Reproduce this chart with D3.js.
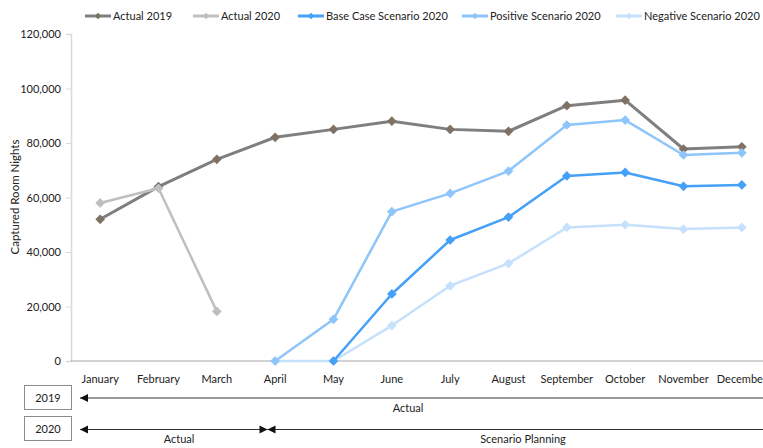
<!DOCTYPE html>
<html>
<head>
<meta charset="utf-8">
<script src="https://cdn.jsdelivr.net/npm/d3@7"></script>
<style>
  html, body { margin: 0; padding: 0; background: #fff; }
  svg { display: block; font-family: Lato, "Open Sans", sans-serif; }
</style>
</head>
<body>
<svg id="chart" width="763" height="448"></svg>
<script>
// Months on the x axis
const months = ["January", "February", "March", "April", "May", "June", "July",
  "August", "September", "October", "November", "December"];

// Captured room nights per month (null = no value)
const actual2019 = [52000, 64000, 74000, 82100, 85000, 88000, 85000, 84300, 93700, 95700, 77800, 78600];
const actual2020 = [58000, 63400, 18200, null, null, null, null, null, null, null, null, null];
const baseCase2020 = [null, null, null, null, 0, 24600, 44400, 52800, 67900, 69200, 64100, 64600];
const positive2020 = [null, null, null, 0, 15300, 54800, 61500, 69700, 86600, 88400, 75600, 76400];
const negative2020 = [null, null, null, 0, 0, 13000, 27600, 35800, 49000, 50000, 48400, 49000];

const yTicks = [0, 20000, 40000, 60000, 80000, 100000, 120000];

const seriesNames = ["Actual 2019", "Actual 2020", "Base Case Scenario 2020",
  "Positive Scenario 2020", "Negative Scenario 2020"];

const series = [
  { name: seriesNames[0], values: actual2019, line: "#7f7f7f", marker: "#7f7265", width: 3 },
  { name: seriesNames[1], values: actual2020, line: "#bfbfbf", marker: "#bfbfbf", width: 2.5 },
  { name: seriesNames[4], values: negative2020, line: "#c6e1fc", marker: "#c6e1fc", width: 2.5 },
  { name: seriesNames[3], values: positive2020, line: "#8ec5fa", marker: "#8ec5fa", width: 2.5 },
  { name: seriesNames[2], values: baseCase2020, line: "#45a0f7", marker: "#45a0f7", width: 2.5 }
];
const legendOrder = [0, 1, 4, 3, 2];
const legendX = [85, 193, 298, 462, 616];

const svg = d3.select("#chart");

const x = d3.scaleBand().domain(months).range([71, 771]);
const y = d3.scaleLinear().domain([0, 120000]).range([361, 34]);
const cx = m => x(m) + x.bandwidth() / 2;

// Vertical value axis
const yAxis = svg.append("g")
  .attr("transform", "translate(71,0)")
  .call(d3.axisLeft(y).tickValues(yTicks).tickSize(5).tickPadding(5)
    .tickFormat(d3.format(",")));
yAxis.select(".domain").attr("stroke", "#d9d9d9").attr("stroke-width", 1.5);
yAxis.selectAll(".tick line").attr("stroke", "#d9d9d9");
yAxis.selectAll(".tick text").attr("fill", "#222").style("font-size", "11px")
  .style("font-family", "Lato, 'Open Sans', sans-serif");

// Horizontal category axis
svg.append("line")
  .attr("x1", 71).attr("x2", 763).attr("y1", y(0)).attr("y2", y(0))
  .attr("stroke", "#a6a6a6").attr("stroke-width", 1.2);
svg.append("g").selectAll("text").data(months).join("text")
  .attr("x", d => cx(d)).attr("y", 383)
  .attr("text-anchor", "middle")
  .style("font-size", "11px").attr("fill", "#222")
  .text(d => d);

// Axis title
svg.append("text")
  .attr("transform", "translate(19,197) rotate(-90)")
  .attr("text-anchor", "middle")
  .style("font-size", "11.5px").attr("fill", "#222")
  .text("Captured Room Nights");

// Lines and diamond markers
const line = d3.line()
  .defined(d => d.v !== null)
  .x(d => cx(d.m)).y(d => y(d.v));
const diamond = d3.symbol().type(d3.symbolDiamond2).size(60);

series.forEach(s => {
  const pts = months.map((m, i) => ({ m, v: s.values[i] }));
  svg.append("path").datum(pts)
    .attr("d", line)
    .attr("fill", "none").attr("stroke", s.line)
    .attr("stroke-width", s.width).attr("stroke-linejoin", "round");
  svg.append("g").selectAll("path").data(pts.filter(d => d.v !== null)).join("path")
    .attr("d", diamond)
    .attr("transform", d => `translate(${cx(d.m)},${y(d.v)})`)
    .attr("fill", s.marker);
});

// Legend
legendOrder.forEach((si, k) => {
  const s = series[si];
  const g = svg.append("g").attr("transform", `translate(${legendX[k]},16)`);
  g.append("line").attr("x1", 0).attr("x2", 26).attr("stroke", s.line).attr("stroke-width", 3);
  g.append("path").attr("d", d3.symbol().type(d3.symbolDiamond2).size(26))
    .attr("transform", "translate(13,0)").attr("fill", s.marker);
  g.append("text").attr("x", 28).attr("y", 4)
    .style("font-size", "11px").attr("fill", "#222").text(s.name);
});

// Period annotations below the axis
const boxes = [
  { label: "2019", y: 385 },
  { label: "2020", y: 416 }
];
boxes.forEach(b => {
  svg.append("rect").attr("x", 24.5).attr("y", b.y + 0.5).attr("width", 47).attr("height", 24)
    .attr("fill", "#fff").attr("stroke", "#8c8c8c").attr("stroke-width", 1);
  svg.append("text").attr("x", 48).attr("y", b.y + 16.5)
    .attr("text-anchor", "middle").style("font-size", "11px").attr("fill", "#222")
    .text(b.label);
});

const arrowHead = (xTip, yy, dir) => {
  svg.append("path")
    .attr("d", `M${xTip},${yy} L${xTip + dir * 8},${yy - 4} L${xTip + dir * 8},${yy + 4} Z`)
    .attr("fill", "#111");
};

// 2019: actual for the whole year
svg.append("line").attr("x1", 80).attr("x2", 763).attr("y1", 398).attr("y2", 398)
  .attr("stroke", "#333").attr("stroke-width", 1);
arrowHead(80, 398, 1);
svg.append("text").attr("x", 408).attr("y", 412).attr("text-anchor", "middle")
  .style("font-size", "11px").attr("fill", "#222").text("Actual");

// 2020: actual until April, scenario planning afterwards
const split = 267.5;
svg.append("line").attr("x1", 80).attr("x2", split).attr("y1", 429.5).attr("y2", 429.5)
  .attr("stroke", "#333").attr("stroke-width", 1);
svg.append("line").attr("x1", split).attr("x2", 763).attr("y1", 429.5).attr("y2", 429.5)
  .attr("stroke", "#333").attr("stroke-width", 1);
arrowHead(80, 429.5, 1);
arrowHead(split, 429.5, -1);
arrowHead(split, 429.5, 1);
svg.append("text").attr("x", 179).attr("y", 443).attr("text-anchor", "middle")
  .style("font-size", "11px").attr("fill", "#222").text("Actual");
svg.append("text").attr("x", 523).attr("y", 443).attr("text-anchor", "middle")
  .style("font-size", "11px").attr("fill", "#222").text("Scenario Planning");
</script>
</body>
</html>
